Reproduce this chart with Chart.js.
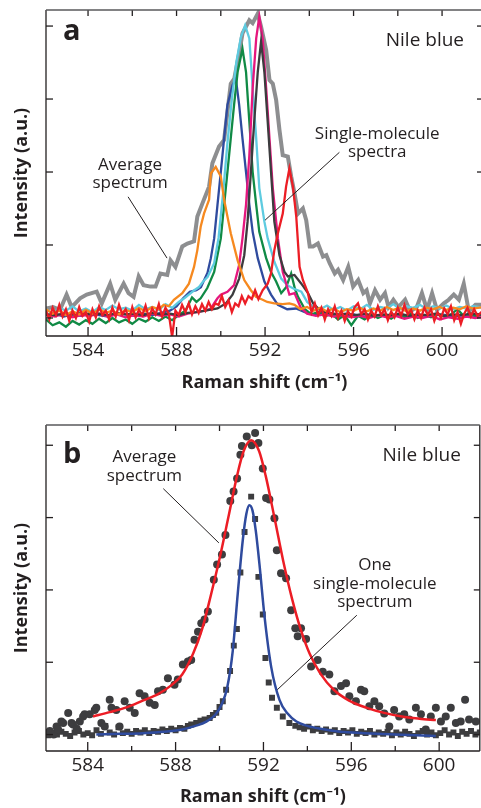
<!DOCTYPE html>
<html>
<head>
<meta charset="utf-8">
<script src="https://cdn.jsdelivr.net/npm/chart.js@4.4.0/dist/chart.umd.min.js"></script>
<style>
  html, body { margin: 0; padding: 0; background: #fff; overflow: hidden; width: 481px; height: 808px; }
  .panel { position: relative; width: 484px; }
  canvas { display: block; }
</style>
</head>
<body>
<div class="panel"><canvas id="chart-a" width="484" height="400"></canvas></div>
<div class="panel"><canvas id="chart-b" width="484" height="408"></canvas></div>
<script>
// axis ticks (Raman shift, cm-1)
const xMajorTicks = [584, 588, 592, 596, 600];
const xMinorTicks = [586, 590, 594, 598];
const yTicks = [0, 1, 2, 3, 4];

// panel a: average spectrum and single-molecule spectra, [shift, intensity]
const avgA = [[582.12,0.13],[582.42,0.15],[582.73,0.11],[583.03,0.32],[583.26,0.15],[583.64,0.27],[583.94,0.32],[584.39,0.36],[584.62,0.20],[585.0,0.47],[585.23,0.25],[585.61,0.47],[585.83,0.34],[586.06,0.29],[586.29,0.57],[586.51,0.45],[586.82,0.43],[587.05,0.43],[587.27,0.61],[587.58,0.59],[587.73,0.79],[587.95,0.70],[588.26,0.98],[588.49,1.02],[588.79,1.05],[588.94,1.39],[589.17,1.57],[589.47,1.80],[589.62,2.12],[589.92,2.35],[590.15,2.44],[590.45,3.21],[590.61,3.28],[590.83,3.63],[590.98,3.90],[591.29,4.08],[591.44,4.04],[591.67,4.17],[591.82,3.99],[592.05,3.67],[592.20,3.26],[592.35,3.21],[592.50,2.99],[592.65,2.58],[592.80,2.23],[593.03,2.21],[593.18,1.94],[593.33,1.71],[593.49,1.43],[593.71,1.50],[593.86,1.34],[594.02,0.98],[594.17,0.98],[594.39,1.02],[594.62,0.84],[594.77,0.86],[594.92,0.75],[595.15,0.61],[595.30,0.66],[595.53,0.52],[595.76,0.70],[595.98,0.43],[596.21,0.52],[596.44,0.34],[596.59,0.38],[596.74,0.20],[596.97,0.38],[597.20,0.25],[597.42,0.34],[597.58,0.15],[597.80,0.25],[598.03,0.15],[598.33,0.25],[598.56,0.09],[598.86,0.15],[599.09,0.34],[599.32,0.11],[599.55,0.34],[599.77,0.11],[600.08,0.20],[600.30,0.25],[600.53,0.32],[600.76,0.25],[600.98,0.47],[601.21,0.09],[601.51,0.18],[601.85,0.18]];

const blueA = [[582.1,0.04],[582.5,0.06],[582.9,0.02],[583.3,0.05],[583.7,0.03],[584.1,0.07],[584.5,0.04],[584.9,0.02],[585.3,0.06],[585.7,0.05],[586.1,0.03],[586.5,0.06],[586.9,0.04],[587.3,0.07],[587.7,0.10],[588.0,0.16],[588.3,0.27],[588.6,0.36],[588.9,0.38],[589.1,0.42],[589.4,0.62],[589.55,0.82],[589.7,1.09],[589.85,1.55],[590.0,2.00],[590.15,2.46],[590.3,2.92],[590.53,3.19],[590.68,3.28],[590.83,2.92],[590.98,2.46],[591.14,2.00],[591.29,1.55],[591.44,1.18],[591.67,0.82],[591.97,0.50],[592.27,0.32],[592.58,0.18],[593.0,0.12],[593.4,0.13],[593.8,0.08],[594.2,0.05],[594.6,0.07],[595.0,0.04],[595.5,0.03],[596.0,0.05],[596.5,0.02],[597.0,0.04],[597.5,0.03],[598.0,0.05],[598.5,0.02],[599.0,0.04],[599.5,0.03],[600.0,0.05],[600.5,0.02],[601.0,0.04],[601.5,0.03],[601.85,0.04]];

const cyanA = [[582.1,0.12],[582.4,0.06],[582.7,0.14],[583.0,0.10],[583.3,0.16],[583.6,0.09],[583.9,0.13],[584.2,0.08],[584.5,0.15],[584.8,0.11],[585.1,0.17],[585.4,0.12],[585.7,0.14],[586.0,0.10],[586.3,0.18],[586.6,0.12],[586.9,0.15],[587.2,0.11],[587.5,0.19],[587.8,0.14],[588.1,0.22],[588.35,0.27],[588.6,0.33],[588.8,0.38],[589.0,0.42],[589.2,0.50],[589.4,0.56],[589.7,0.75],[589.9,1.10],[590.1,1.70],[590.3,2.40],[590.5,3.00],[590.7,3.50],[590.91,3.85],[591.1,4.01],[591.29,3.83],[591.44,3.15],[591.6,2.46],[591.74,1.78],[591.97,1.32],[592.12,1.09],[592.42,0.77],[592.73,0.54],[593.0,0.45],[593.3,0.40],[593.64,0.36],[593.9,0.22],[594.2,0.15],[594.5,0.12],[594.8,0.17],[595.1,0.11],[595.4,0.15],[595.7,0.10],[596.0,0.16],[596.3,0.12],[596.6,0.18],[596.9,0.11],[597.2,0.15],[597.5,0.13],[597.8,0.19],[598.1,0.12],[598.4,0.16],[598.7,0.14],[599.0,0.18],[599.3,0.12],[599.6,0.16],[599.9,0.13],[600.2,0.17],[600.5,0.12],[600.8,0.15],[601.1,0.13],[601.4,0.16],[601.85,0.14]];

const greenA = [[582.1,-0.02],[582.4,-0.10],[582.7,-0.06],[583.0,-0.12],[583.3,-0.04],[583.6,-0.09],[583.9,-0.03],[584.2,-0.08],[584.5,-0.01],[584.8,-0.07],[585.1,0.00],[585.4,-0.06],[585.7,-0.02],[586.0,-0.08],[586.3,-0.01],[586.6,-0.05],[586.9,0.01],[587.2,-0.04],[587.5,0.02],[587.8,-0.03],[588.1,0.04],[588.4,0.10],[588.7,0.28],[588.9,0.22],[589.09,0.27],[589.39,0.41],[589.7,0.63],[590.0,1.09],[590.15,1.55],[590.3,2.00],[590.45,2.46],[590.6,2.92],[590.76,3.37],[590.98,3.69],[591.14,3.37],[591.29,2.69],[591.44,2.00],[591.6,1.55],[591.74,1.18],[592.05,0.82],[592.27,0.63],[592.5,0.50],[592.73,0.34],[592.95,0.42],[593.18,0.61],[593.35,0.40],[593.49,0.29],[593.8,0.12],[594.1,0.05],[594.4,0.08],[594.7,0.02],[595.0,0.06],[595.3,-0.02],[595.6,0.04],[595.9,-0.10],[596.2,0.03],[596.5,-0.02],[596.8,0.05],[597.1,0.00],[597.4,0.04],[597.7,-0.01],[598.0,0.05],[598.3,0.01],[598.6,0.06],[598.9,0.00],[599.2,0.04],[599.5,0.01],[599.8,0.06],[600.1,0.02],[600.4,0.05],[600.7,0.12],[601.0,0.02],[601.3,0.06],[601.6,0.01],[601.85,0.04]];

const magentaA = [[582.1,0.05],[582.5,0.02],[582.9,0.06],[583.3,0.01],[583.7,0.04],[584.1,0.03],[584.5,0.06],[584.9,0.02],[585.3,0.05],[585.7,0.01],[586.1,0.04],[586.5,0.02],[586.9,0.06],[587.3,0.03],[587.7,0.05],[588.1,0.02],[588.5,0.06],[588.9,0.08],[589.3,0.10],[589.55,0.13],[589.85,0.27],[590.0,0.32],[590.3,0.36],[590.6,0.45],[590.83,0.73],[590.98,1.09],[591.14,1.55],[591.29,2.23],[591.44,3.15],[591.6,3.83],[591.74,4.13],[591.89,3.83],[592.05,3.15],[592.2,2.46],[592.35,1.78],[592.58,1.09],[592.8,0.63],[593.1,0.32],[593.33,0.34],[593.6,0.15],[593.9,0.06],[594.3,0.03],[594.7,0.05],[595.1,0.02],[595.5,0.04],[595.9,0.01],[596.3,0.03],[596.7,0.00],[597.1,0.04],[597.5,0.01],[597.9,0.03],[598.3,-0.01],[598.7,0.02],[599.1,0.00],[599.5,0.03],[599.9,-0.02],[600.3,0.01],[600.7,-0.01],[601.1,0.02],[601.5,0.00],[601.85,0.02]];

const darkA = [[582.1,0.05],[582.5,0.04],[582.9,0.06],[583.3,0.05],[583.7,0.07],[584.1,0.05],[584.5,0.06],[584.9,0.04],[585.3,0.07],[585.7,0.05],[586.1,0.06],[586.5,0.04],[586.9,0.07],[587.3,0.05],[587.7,0.06],[588.1,0.04],[588.5,0.07],[588.9,0.08],[589.3,0.10],[589.85,0.13],[590.23,0.20],[590.53,0.32],[590.83,0.54],[591.06,0.86],[591.21,1.32],[591.36,2.00],[591.51,2.69],[591.67,3.37],[591.82,3.79],[591.97,3.37],[592.12,2.69],[592.27,2.00],[592.42,1.32],[592.65,0.86],[592.88,0.63],[593.03,0.57],[593.33,0.59],[593.64,0.47],[593.94,0.34],[594.17,0.20],[594.5,0.10],[594.9,0.07],[595.3,0.05],[595.7,0.06],[596.1,0.04],[596.5,0.06],[596.9,0.03],[597.3,0.05],[597.7,0.04],[598.1,0.06],[598.5,0.03],[598.9,0.05],[599.3,0.04],[599.7,0.06],[600.1,0.03],[600.5,0.05],[600.9,0.04],[601.3,0.06],[601.85,0.05]];

const orangeA = [[582.1,0.12],[582.4,0.06],[582.7,0.10],[583.0,0.04],[583.3,0.09],[583.6,0.05],[583.9,0.11],[584.2,0.06],[584.5,0.12],[584.8,0.07],[585.1,0.10],[585.4,0.05],[585.7,0.11],[586.0,0.08],[586.3,0.14],[586.6,0.09],[586.9,0.15],[587.2,0.12],[587.42,0.18],[587.65,0.16],[587.88,0.25],[588.26,0.34],[588.56,0.47],[588.79,0.70],[588.94,0.93],[589.09,1.25],[589.24,1.43],[589.47,1.62],[589.55,1.98],[589.77,2.07],[590.0,1.94],[590.15,1.62],[590.45,1.16],[590.76,0.79],[591.06,0.52],[591.36,0.38],[591.59,0.29],[591.89,0.25],[592.1,0.22],[592.42,0.20],[592.8,0.19],[593.1,0.20],[593.33,0.18],[593.6,0.12],[593.9,0.15],[594.2,0.10],[594.5,0.14],[594.8,0.09],[595.1,0.13],[595.4,0.08],[595.7,0.12],[596.0,0.10],[596.3,0.14],[596.6,0.09],[596.9,0.13],[597.2,0.10],[597.5,0.15],[597.8,0.11],[598.1,0.14],[598.4,0.09],[598.7,0.13],[599.0,0.10],[599.3,0.14],[599.6,0.12],[599.9,0.15],[600.2,0.11],[600.5,0.14],[600.8,0.12],[601.1,0.16],[601.4,0.13],[601.85,0.15]];

const redA = [[582.1,0.10],[582.25,-0.02],[582.4,0.14],[582.55,0.04],[582.7,0.18],[582.85,0.02],[583.0,0.12],[583.15,-0.04],[583.3,0.10],[583.45,0.00],[583.6,0.15],[583.75,0.03],[583.9,0.08],[584.05,-0.05],[584.2,0.12],[584.35,0.01],[584.5,0.16],[584.65,0.04],[584.8,0.10],[584.95,-0.02],[585.1,0.14],[585.25,0.02],[585.4,0.18],[585.55,0.05],[585.7,0.12],[585.85,-0.03],[586.0,0.15],[586.15,0.01],[586.3,0.11],[586.45,0.04],[586.6,0.17],[586.75,0.00],[586.9,0.13],[587.05,0.05],[587.2,0.19],[587.35,0.02],[587.5,0.14],[587.65,0.06],[587.8,-0.26],[587.95,0.10],[588.1,0.04],[588.25,0.18],[588.4,0.08],[588.55,0.20],[588.7,0.05],[588.85,0.16],[589.0,0.07],[589.15,0.19],[589.3,0.10],[589.45,0.22],[589.6,0.12],[589.75,0.20],[589.9,0.18],[590.05,0.30],[590.2,0.15],[590.35,0.24],[590.5,0.08],[590.65,0.20],[590.8,0.16],[590.95,0.30],[591.1,0.20],[591.25,0.30],[591.4,0.26],[591.55,0.38],[591.7,0.26],[591.89,0.38],[592.12,0.47],[592.27,0.61],[592.42,0.93],[592.58,1.16],[592.8,1.43],[592.95,1.80],[593.1,2.05],[593.26,1.80],[593.41,1.39],[593.56,0.70],[593.71,0.52],[593.94,0.34],[594.1,0.08],[594.25,0.20],[594.4,0.04],[594.55,0.14],[594.7,-0.02],[594.85,0.12],[595.0,0.03],[595.15,0.16],[595.3,0.00],[595.45,0.10],[595.6,-0.04],[595.75,0.09],[595.9,0.02],[596.05,0.15],[596.2,0.20],[596.35,0.05],[596.5,0.12],[596.65,-0.02],[596.8,0.10],[596.95,0.02],[597.1,0.16],[597.25,0.04],[597.4,0.12],[597.55,-0.03],[597.7,0.09],[597.85,0.01],[598.0,0.14],[598.15,0.03],[598.3,0.18],[598.45,0.05],[598.6,0.11],[598.75,-0.02],[598.9,0.10],[599.05,0.00],[599.2,0.14],[599.35,0.04],[599.5,0.12],[599.65,-0.04],[599.8,0.08],[599.95,0.00],[600.1,0.13],[600.25,0.05],[600.4,0.16],[600.55,-0.03],[600.7,0.08],[600.85,-0.08],[601.0,0.06],[601.15,0.14],[601.3,0.02],[601.45,0.12],[601.6,0.03],[601.85,0.10]];

// panel b: measured points and fitted curves, [shift, intensity]
const avgPointsB = [[582.05,0.02],[582.27,0.05],[582.45,0.00],[582.58,0.11],[582.65,0.07],[582.80,0.18],[582.88,0.16],[583.11,0.30],[583.26,0.16],[583.33,0.14],[583.5,0.08],[583.64,0.18],[583.79,0.25],[583.86,0.28],[584.09,0.28],[584.32,0.34],[584.39,0.37],[584.62,0.16],[584.77,0.11],[585.0,0.48],[585.08,0.37],[585.30,0.34],[585.45,0.11],[585.68,0.46],[585.91,0.37],[586.14,0.30],[586.36,0.57],[586.59,0.53],[586.82,0.44],[587.05,0.41],[587.2,0.60],[587.42,0.62],[587.65,0.78],[587.95,0.69],[588.1,0.76],[588.33,0.97],[588.56,1.01],[588.71,1.03],[588.86,1.31],[589.02,1.42],[589.17,1.54],[589.32,1.59],[589.47,1.70],[589.74,2.14],[589.89,2.35],[590.11,2.49],[590.27,2.76],[590.49,3.23],[590.64,3.36],[590.80,3.54],[590.95,3.87],[591.02,3.99],[591.24,4.12],[591.47,4.00],[591.62,4.17],[591.77,4.03],[591.97,3.68],[592.12,3.27],[592.27,3.25],[592.5,2.99],[592.61,2.55],[592.8,2.23],[593.03,2.16],[593.26,1.72],[593.45,1.47],[593.56,1.36],[593.71,1.47],[593.94,1.32],[594.17,0.94],[594.47,1.03],[594.70,0.87],[595.0,0.83],[595.23,0.60],[595.53,0.67],[595.76,0.71],[595.91,0.53],[596.21,0.46],[596.44,0.62],[596.59,0.60],[596.82,0.39],[597.05,0.46],[597.27,0.39],[597.5,0.29],[597.73,0.11],[597.95,0.34],[598.18,0.25],[598.41,0.28],[598.64,0.21],[598.94,0.37],[599.17,0.28],[599.39,0.07],[599.62,0.25],[599.85,0.37],[600.08,0.18],[600.30,0.25],[600.53,0.37],[600.76,0.16],[600.98,0.18],[601.18,0.48],[601.36,0.21],[601.67,0.18]];

const singlePointsB = [[582.0,0.02],[582.2,-0.01],[582.4,0.03],[582.6,0.00],[582.8,0.04],[583.0,0.01],[583.2,-0.02],[583.4,0.03],[583.6,0.05],[583.8,0.00],[584.0,0.02],[584.2,-0.01],[584.4,0.06],[584.6,0.01],[584.8,0.12],[585.0,0.03],[585.2,0.00],[585.4,0.10],[585.6,0.02],[585.8,0.04],[586.0,0.01],[586.2,0.05],[586.4,0.03],[586.6,0.06],[586.8,0.02],[587.0,0.05],[587.2,0.04],[587.4,0.07],[587.6,0.05],[587.8,0.08],[588.0,0.06],[588.2,0.09],[588.4,0.08],[588.56,0.12],[588.71,0.14],[588.94,0.16],[589.13,0.19],[589.32,0.21],[589.55,0.23],[589.7,0.27],[589.85,0.30],[590.0,0.38],[590.15,0.46],[590.30,0.62],[590.48,0.88],[590.65,1.23],[590.79,1.46],[590.95,2.24],[591.14,2.80],[591.44,3.29],[591.62,2.98],[591.77,2.18],[591.97,1.66],[592.09,1.06],[592.24,0.72],[592.39,0.51],[592.61,0.37],[592.88,0.25],[593.18,0.16],[593.45,0.12],[593.65,0.10],[593.85,0.08],[594.05,0.11],[594.25,0.06],[594.45,0.08],[594.65,0.05],[594.85,0.07],[595.05,0.04],[595.25,0.06],[595.45,0.02],[595.65,0.05],[595.85,0.03],[596.05,0.06],[596.25,0.01],[596.45,0.04],[596.65,0.02],[596.85,0.05],[597.05,0.00],[597.25,0.03],[597.45,0.01],[597.65,0.04],[597.85,-0.01],[598.05,0.03],[598.25,0.00],[598.45,0.04],[598.65,0.01],[598.85,-0.02],[599.05,0.02],[599.25,0.05],[599.45,0.00],[599.65,0.03],[599.85,-0.01],[600.05,0.02],[600.25,0.06],[600.45,0.00],[600.65,0.03],[600.85,-0.02],[601.05,0.04],[601.25,0.01],[601.45,0.05],[601.65,0.00],[601.85,0.03]];

const avgFitB = [[584.24,0.25],[585.0,0.31],[585.8,0.38],[586.5,0.47],[587.2,0.56],[587.8,0.68],[588.3,0.83],[588.8,1.12],[589.2,1.45],[589.6,1.92],[590.0,2.43],[590.4,3.00],[590.8,3.58],[591.1,3.92],[591.44,4.07],[591.8,3.92],[592.1,3.58],[592.5,3.00],[592.9,2.40],[593.3,1.88],[593.7,1.45],[594.1,1.12],[594.6,0.84],[595.2,0.62],[595.9,0.47],[596.7,0.37],[597.5,0.30],[598.3,0.25],[599.1,0.22],[599.85,0.20]];

const singleFitB = [[584.39,0.00],[585.5,0.01],[586.5,0.02],[587.5,0.04],[588.3,0.07],[588.9,0.12],[589.4,0.18],[589.8,0.27],[590.1,0.42],[590.35,0.65],[590.6,1.15],[590.83,1.95],[591.06,2.69],[591.22,3.05],[591.36,3.17],[591.5,3.10],[591.65,2.82],[591.82,2.35],[592.05,1.63],[592.35,0.94],[592.73,0.48],[593.1,0.29],[593.5,0.18],[594.0,0.12],[594.6,0.08],[595.5,0.04],[596.6,0.02],[598.0,0.00],[599.85,-0.02]];

const FONT = '"Open Sans", "Noto Sans", sans-serif';
const INK = '#231f20';

function pts(arr) {
  return arr.map(p => ({ x: p[0], y: p[1] }));
}

// frame, inward ticks, panel letter and notes
const framePlugin = {
  id: 'frame',
  afterDatasetsDraw(chart, args, opts) {
    const { ctx, chartArea: a, scales: { x, y } } = chart;
    ctx.save();
    ctx.strokeStyle = INK;
    ctx.lineWidth = 1.3;
    const seg = (x1, y1, x2, y2) => { ctx.beginPath(); ctx.moveTo(x1, y1); ctx.lineTo(x2, y2); ctx.stroke(); };
    xMajorTicks.forEach(v => {
      const px = x.getPixelForValue(v);
      seg(px, a.bottom, px, a.bottom - 9);
      seg(px, a.top, px, a.top + 6);
    });
    xMinorTicks.forEach(v => {
      const px = x.getPixelForValue(v);
      seg(px, a.bottom, px, a.bottom - 5);
      seg(px, a.top, px, a.top + 6);
    });
    yTicks.forEach(v => {
      const py = y.getPixelForValue(v);
      seg(a.left, py, a.left + 7, py);
      seg(a.right, py, a.right - 6, py);
    });
    seg(a.left, a.top, a.left, a.bottom);
    seg(a.left, a.bottom, a.right, a.bottom);
    seg(a.right, a.top, a.right, a.bottom);
    ctx.strokeStyle = '#58595b';
    seg(a.left, a.top, a.right, a.top);

    // panel letter and "Nile blue"
    ctx.fillStyle = INK;
    ctx.textBaseline = 'alphabetic';
    ctx.font = 'bold 29px ' + FONT;
    ctx.textAlign = 'left';
    ctx.fillText(opts.letter, a.left + 17, a.top + opts.letterDy);
    ctx.font = '19px ' + FONT;
    ctx.textAlign = 'right';
    ctx.fillText('Nile blue', a.right - 19, a.top + 36);

    // annotations with leader lines, placed in data coordinates
    ctx.font = '17px ' + FONT;
    ctx.textAlign = 'center';
    ctx.textBaseline = 'middle';
    ctx.lineWidth = 1;
    ctx.strokeStyle = INK;
    opts.notes.forEach(n => {
      const cx = x.getPixelForValue(n.at[0]);
      const cy = y.getPixelForValue(n.at[1]);
      n.lines.forEach((t, i) => ctx.fillText(t, cx, cy + i * 18.5));
      seg(x.getPixelForValue(n.from[0]), y.getPixelForValue(n.from[1]),
          x.getPixelForValue(n.to[0]), y.getPixelForValue(n.to[1]));
    });
    ctx.restore();
  }
};

function scalesFor(yMin, yMax, xHeight, xTitlePad) {
  return {
    x: {
      type: 'linear',
      min: 582.1,
      max: 601.85,
      afterBuildTicks: s => { s.ticks = xMajorTicks.concat(xMinorTicks).sort((p, q) => p - q).map(v => ({ value: v })); },
      afterFit: s => { s.height = xHeight; },
      grid: { display: false, drawTicks: false },
      border: { display: false },
      ticks: {
        padding: 3,
        color: INK,
        font: { family: FONT, size: 19 },
        maxRotation: 0,
        autoSkip: false,
        callback: v => xMajorTicks.includes(v) ? String(v) : ''
      },
      title: {
        display: true,
        text: 'Raman shift (cm\u207B\u00B9)',
        color: INK,
        font: { family: FONT, size: 18, weight: 'bold' },
        padding: { top: 0, bottom: xTitlePad }
      }
    },
    y: {
      type: 'linear',
      min: yMin,
      max: yMax,
      afterFit: s => { s.width = 46; },
      grid: { display: false, drawTicks: false },
      border: { display: false },
      ticks: { display: false },
      title: {
        display: true,
        text: 'Intensity (a.u.)',
        color: INK,
        font: { family: FONT, size: 18, weight: 'bold' },
        padding: { top: 11, bottom: 0 }
      }
    }
  };
}

function lineSet(data, color, width, order) {
  return { data: pts(data), borderColor: color, borderWidth: width, pointRadius: 0, tension: 0, order: order, fill: false };
}

new Chart(document.getElementById('chart-a'), {
  type: 'line',
  data: {
    datasets: [
      lineSet(redA, '#ec1d25', 2.3, 0),
      lineSet(orangeA, '#f6891f', 2.3, 1),
      lineSet(darkA, '#3c3c3e', 2.3, 2),
      lineSet(magentaA, '#e5177e', 2.3, 3),
      lineSet(cyanA, '#5ecbe0', 2.3, 4),
      lineSet(greenA, '#108a45', 2.3, 5),
      lineSet(blueA, '#2f4b9e', 2.3, 6),
      lineSet(avgA, '#8d8e90', 4, 7)
    ]
  },
  options: {
    responsive: false,
    animation: false,
    layout: { padding: { left: 0, right: 1, top: 10, bottom: 0 } },
    scales: scalesFor(-0.247, 4.22, 64, 6),
    plugins: {
      legend: { display: false },
      tooltip: { enabled: false },
      frame: {
        letter: 'a',
        letterDy: 30,
        notes: [
          { lines: ['Average', 'spectrum'], at: [585.9, 2.10], from: [585.81, 1.66], to: [587.57, 0.82] },
          { lines: ['Single-molecule', 'spectra'], at: [597.07, 2.52], from: [595.36, 2.27], to: [592.0, 1.34] }
        ]
      }
    }
  },
  plugins: [framePlugin]
});

new Chart(document.getElementById('chart-b'), {
  type: 'line',
  data: {
    datasets: [
      { data: pts(avgFitB), borderColor: '#ec1d25', borderWidth: 2.5, pointRadius: 0, cubicInterpolationMode: 'monotone', order: 0, fill: false },
      { data: pts(singleFitB), borderColor: '#2f4b9e', borderWidth: 2.5, pointRadius: 0, cubicInterpolationMode: 'monotone', order: 1, fill: false },
      { data: pts(avgPointsB), showLine: false, pointStyle: 'circle', pointRadius: 4, pointBackgroundColor: '#3d3d3f', pointBorderWidth: 0, order: 2 },
      { data: pts(singlePointsB), showLine: false, pointStyle: 'rect', pointRadius: 4.2, pointBackgroundColor: '#3d3d3f', pointBorderWidth: 0, order: 3 }
    ]
  },
  options: {
    responsive: false,
    animation: false,
    layout: { padding: { left: 0, right: 1, top: 25, bottom: 0 } },
    scales: scalesFor(-0.227, 4.28, 57, 0),
    plugins: {
      legend: { display: false },
      tooltip: { enabled: false },
      frame: {
        letter: 'b',
        letterDy: 38,
        notes: [
          { lines: ['Average', 'spectrum'], at: [586.58, 3.83], from: [587.44, 3.40], to: [589.97, 2.65] },
          { lines: ['One', 'single-molecule', 'spectrum'], at: [597.07, 2.34], from: [596.25, 1.65], to: [592.63, 0.62] }
        ]
      }
    }
  },
  plugins: [framePlugin]
});
</script>
</body>
</html>
